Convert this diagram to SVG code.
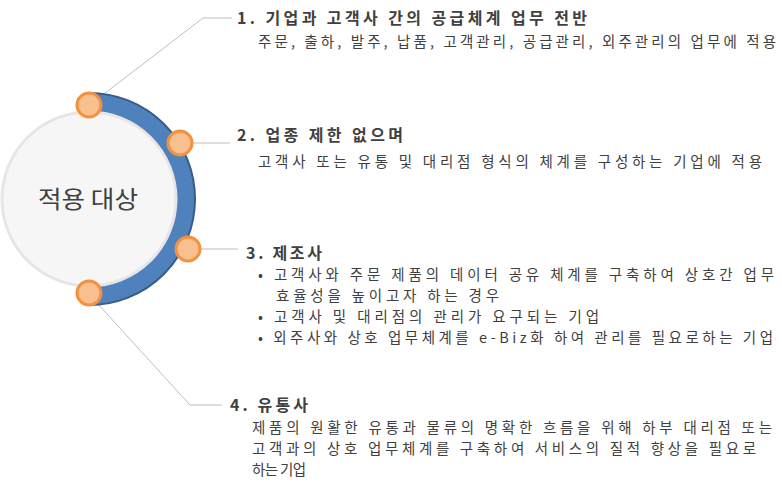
<svg xmlns="http://www.w3.org/2000/svg" width="782" height="484" viewBox="0 0 782 484">
<style>
.t{font-family:"Noto Sans CJK KR","Noto Sans",sans-serif;fill:#404040}
.h{font-size:16px;font-weight:bold}
.s{font-size:14.5px}
.ln{stroke:#BFBFBF;stroke-width:1;fill:none}
.dot{fill:#F8BF8F;stroke:#F4913F;stroke-width:3}
</style>
<rect width="782" height="484" fill="#fff"/>
<g id="connectors">
<polyline class="ln" points="100,97 203,18 232,18"/>
<line class="ln" x1="192" y1="143" x2="230" y2="143"/>
<line class="ln" x1="200" y1="249" x2="238" y2="249"/>
<polyline class="ln" points="97,303 190,405 222,405"/>
</g>
<g id="ring">
<path d="M89,93 A106,106 0 0 1 89,305 Z" fill="#4F81BD" stroke="#385D8A" stroke-width="2"/>
</g>
<g id="center">
<circle cx="89" cy="199" r="87" fill="#F6F6F6" stroke="#E6E6E6" stroke-width="3"/>
<text class="t" x="38" y="208" font-size="24" textLength="100" lengthAdjust="spacingAndGlyphs">적용 대상</text>
</g>
<g id="dots">
<circle class="dot" cx="89" cy="105" r="12"/>
<circle class="dot" cx="180" cy="143" r="12"/>
<circle class="dot" cx="188" cy="249" r="12"/>
<circle class="dot" cx="89" cy="293" r="12"/>
</g>
<g id="n1">
<text class="t h" x="237" y="24" textLength="350">1. 기업과 고객사 간의 공급체계 업무 전반</text>
<text class="t s" x="258" y="47" textLength="518">주문, 출하, 발주, 납품, 고객관리, 공급관리, 외주관리의 업무에 적용</text>
</g>
<g id="n2">
<text class="t h" x="237" y="141" textLength="166">2. 업종 제한 없으며</text>
<text class="t s" x="258" y="167" textLength="504">고객사 또는 유통 및 대리점 형식의 체계를 구성하는 기업에 적용</text>
</g>
<g id="n3">
<text class="t h" x="246" y="259" textLength="76">3. 제조사</text>
<text class="t s" x="258" y="280" textLength="516">• 고객사와 주문 제품의 데이터 공유 체계를 구축하여 상호간 업무</text>
<text class="t s" x="276" y="301" textLength="223">효율성을 높이고자 하는 경우</text>
<text class="t s" x="258" y="322" textLength="341">• 고객사 및 대리점의 관리가 요구되는 기업</text>
<text class="t s" x="258" y="343" textLength="515">• 외주사와 상호 업무체계를 e-Biz화 하여 관리를 필요로하는 기업</text>
</g>
<g id="n4">
<text class="t h" x="230" y="411" textLength="78">4. 유통사</text>
<text class="t s" x="252" y="433" textLength="520">제품의 원활한 유통과 물류의 명확한 흐름을 위해 하부 대리점 또는</text>
<text class="t s" x="252" y="454" textLength="504">고객과의 상호 업무체계를 구축하여 서비스의 질적 향상을 필요로</text>
<text class="t s" x="252" y="475" textLength="54">하는 기업</text>
</g>
</svg>
